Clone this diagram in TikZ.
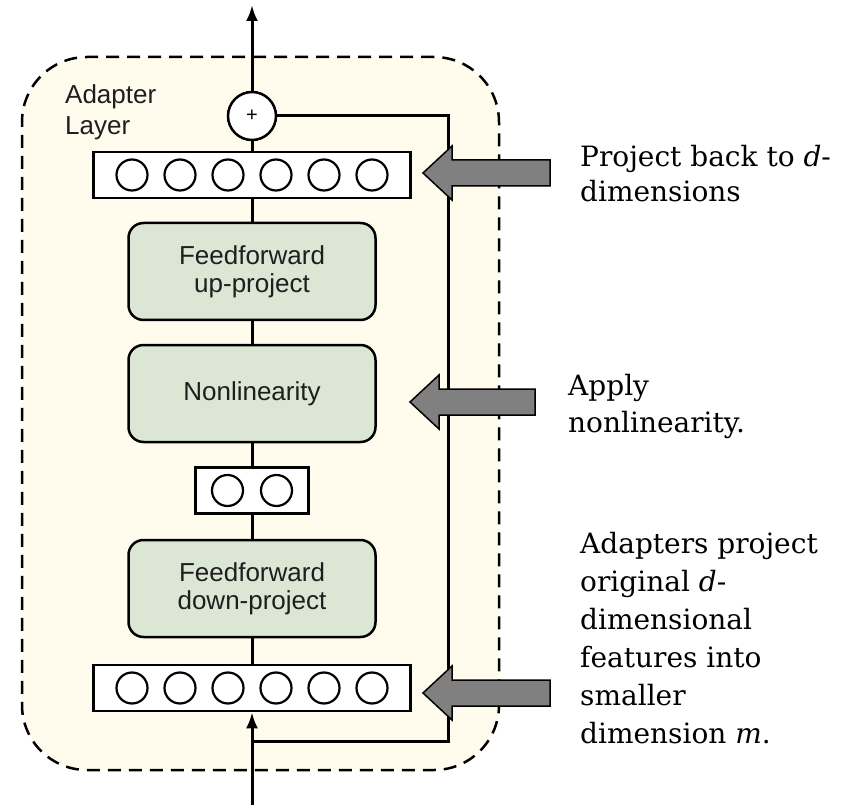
\documentclass[tikz,border=0pt]{standalone}
\usepackage{fontspec}
\setmainfont{Liberation Sans}
\newfontfamily\notefont{DejaVu Serif}
\usetikzlibrary{positioning,arrows.meta}
\definecolor{bgcream}{RGB}{255,252,238}
\definecolor{boxgreen}{RGB}{220,230,212}
\definecolor{arrowgray}{RGB}{128,128,128}
\definecolor{inkgray}{RGB}{30,30,30}
\tikzset{
  layerbox/.style={draw, dashed, dash pattern=on 13pt off 8pt, line width=2.5pt, fill=bgcream, rounded corners=65pt},
  ffbox/.style={draw, line width=2.5pt, fill=boxgreen, rounded corners=15pt, minimum width=247pt, minimum height=97pt, align=center, text=inkgray, font=\fontsize{26}{28}\selectfont},
  vecbox/.style={draw, line width=2.5pt, fill=white, minimum height=46pt},
  unit/.style={draw, circle, line width=2.2pt, minimum size=31pt, inner sep=0pt},
  sumnode/.style={draw, circle, line width=2.5pt, fill=white, minimum size=48pt, inner sep=0pt, font=\fontsize{20}{20}\selectfont},
  link/.style={line width=3pt},
  flow/.style={link, -{Latex[length=16pt,width=12pt]}},
  note/.style={anchor=base west, align=left, inner sep=0pt, font=\notefont\fontsize{28}{37}\selectfont},
  bigarrow/.style={draw, line width=1.5pt, fill=arrowgray, line join=miter}
}
\begin{document}
\begin{tikzpicture}[x=1pt, y=-1pt]
\useasboundingbox (0,0) rectangle (844,805);
% adapter layer background
\node[layerbox, minimum width=477pt, minimum height=713pt] (layer) at (260.5,413.5) {};
\node[anchor=base west, align=left, inner sep=0pt, text=inkgray, font=\fontsize{26}{31}\selectfont] (lbl) at (65,135) {Adapter\\Layer};
% stack
\node[sumnode] (plus) at (252,116) {+};
\node[vecbox, minimum width=317pt] (topvec) at (252,175) {};
\node[ffbox] (ffup) at (252,271.5) {Feedforward\\up-project};
\node[ffbox] (nonlin) at (252,393.5) {Nonlinearity};
\node[vecbox, minimum width=113pt] (midvec) at (252,490.5) {};
\node[ffbox] (ffdown) at (252,588.5) {Feedforward\\down-project};
\node[vecbox, minimum width=317pt] (botvec) at (252,688) {};
\foreach \i in {1,...,6} {
  \node[unit] (t\i) at ({252+48*(\i-3.5)},175) {};
  \node[unit] (b\i) at ({252+48*(\i-3.5)},688) {};
}
\foreach \i in {1,2} \node[unit] (m\i) at ({252+49*(\i-1.5)},490.5) {};
% connectors
\coordinate (in) at (252,805);
\coordinate (out) at (252,5);
\coordinate (split) at (252,741);
\coordinate (skipR) at (448,741);
\draw [flow] (in) -- (botvec);
\draw [flow] (plus) -- (out);
\draw [link] (split) -- (skipR) |- (plus);
\draw [link] (plus) -- (topvec);
\draw [link] (topvec) -- (ffup);
\draw [link] (ffup) -- (nonlin);
\draw [link] (nonlin) -- (midvec);
\draw [link] (midvec) -- (ffdown);
\draw [link] (ffdown) -- (botvec);
% block arrows
\foreach \tx/\ty/\ex in {423/173/550, 410/402/535, 423/693/550}
  \draw[bigarrow] (\ex,{\ty-13}) -- ({\tx+29},{\ty-13}) -- ({\tx+29},{\ty-27}) -- (\tx,\ty)
    -- ({\tx+29},{\ty+27}) -- ({\tx+29},{\ty+13}) -- (\ex,{\ty+13}) -- cycle;
% notes
\node[note, font=\notefont\fontsize{28}{35}\selectfont] (n1) at (580,202) {Project back to \textit{d}-\\dimensions};
\node[note] (n2) at (568,432) {Apply\\nonlinearity.};
\node[note, font=\notefont\fontsize{28}{38}\selectfont] (n3) at (580,743) {Adapters project\\original \textit{d}-\\dimensional\\features into\\smaller\\dimension \textit{m}.};
\end{tikzpicture}
\end{document}
